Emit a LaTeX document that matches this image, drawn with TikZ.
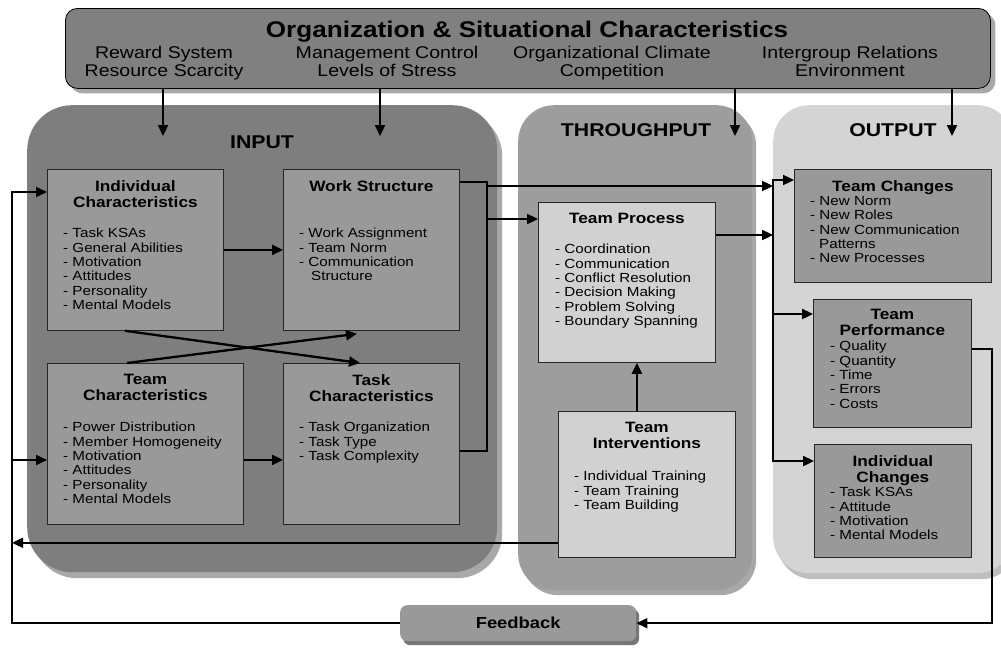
\documentclass[tikz,border=0pt]{standalone}
\usepackage{fontspec}
\setmainfont{Liberation Sans}[FakeStretch=1.15]
\usepackage{tikz}
\usetikzlibrary{arrows.meta,shadows}

\definecolor{orggray}{RGB}{128,128,128}
\definecolor{inputgray}{RGB}{126,126,126}
\definecolor{panelshadow}{RGB}{168,168,168}
\definecolor{boxgray}{RGB}{153,153,153}
\definecolor{thrugray}{RGB}{157,157,157}
\definecolor{lightbox}{RGB}{209,209,209}
\definecolor{outgray}{RGB}{212,212,212}
\definecolor{outshadow}{RGB}{190,190,190}
\definecolor{fbshadow}{RGB}{118,118,118}

\newcommand{\orgtitlefont}{\fontsize{22.7}{24}\selectfont\bfseries}
\newcommand{\orgitemfont}{\fontsize{17}{18}\selectfont}
\newcommand{\panelfont}{\fontsize{18.5}{20}\selectfont\bfseries}
\newcommand{\boxheadfont}{\fontsize{15}{16.2}\selectfont\bfseries}
\newcommand{\boxitemfont}{\fontsize{13.2}{14.4}\selectfont}

\tikzset{
  panel/.style={rounded corners=#1, inner sep=0pt, anchor=north west},
  panellabel/.style={inner sep=0pt, font=\panelfont},
  unit/.style={draw=black!85, line width=0.8pt, inner sep=0pt, anchor=north west},
  unithead/.style={anchor=north, align=center, inner sep=0pt, font=\boxheadfont},
  unitlist/.style={anchor=north west, align=left, inner sep=0pt, font=\boxitemfont},
  orgitem/.style={anchor=north, align=center, inner sep=0pt, font=\orgitemfont},
  flow/.style={line width=2.3pt, -{Triangle[length=11pt,width=10pt]}},
  loopline/.style={line width=1.8pt},
}

\begin{document}
\begin{tikzpicture}[x=1pt,y=-1pt]
  \useasboundingbox (0,0) rectangle (1001,653);
  \clip (0,0) rectangle (1001,653);

  % the three stages
  \node[panel=45pt, fill=inputgray, minimum width=470pt, minimum height=467pt,
        drop shadow={shadow xshift=5pt, shadow yshift=-6pt, fill=panelshadow, opacity=1}]
        (input) at (27,105) {};
  \node[panel=36pt, fill=thrugray, minimum width=234pt, minimum height=485pt,
        drop shadow={shadow xshift=4pt, shadow yshift=-5pt, fill=panelshadow, opacity=1}]
        (through) at (518,105) {};
  \node[panel=36pt, fill=outgray, minimum width=240pt, minimum height=468pt,
        drop shadow={shadow xshift=4pt, shadow yshift=-6pt, fill=outshadow, opacity=1}]
        (output) at (773,105) {};

  \node[panellabel] (inputlabel) at (262,142) {INPUT};
  \node[panellabel] (throughlabel) at (636,130) {THROUGHPUT};
  \node[panellabel] (outputlabel) at (893,130) {OUTPUT};

  % context box on top
  \node[panel=12pt, draw=black, line width=0.8pt, fill=orggray,
        minimum width=925pt, minimum height=80pt,
        drop shadow={shadow xshift=5pt, shadow yshift=-5pt, fill=panelshadow, opacity=1}]
        (org) at (65,8) {};
  \node[inner sep=0pt, font=\orgtitlefont] (orgtitle) at (527,32)
        {Organization \& Situational Characteristics};
  \node[orgitem] (reward) at (164,46) {Reward System\\Resource Scarcity};
  \node[orgitem] (control) at (387,46) {Management Control\\Levels of Stress};
  \node[orgitem] (climate) at (612,46) {Organizational Climate\\Competition};
  \node[orgitem] (relations) at (850,46) {Intergroup Relations\\Environment};

  % input boxes
  \node[unit, fill=boxgray, minimum width=176pt, minimum height=161pt] (ind) at (47,169) {};
  \node[unithead] (indhead) at ([yshift=-11pt]ind.north) {Individual\\Characteristics};
  \node[unitlist] (indlist) at ([shift={(16pt,-59pt)}]ind.north west)
        {- Task KSAs\\- General Abilities\\- Motivation\\- Attitudes\\- Personality\\- Mental Models};

  \node[unit, fill=boxgray, minimum width=176pt, minimum height=161pt] (work) at (283,169) {};
  \node[unithead] (workhead) at ([yshift=-11pt]work.north) {Work Structure};
  \node[unitlist] (worklist) at ([shift={(16pt,-59pt)}]work.north west)
        {- Work Assignment\\- Team Norm\\- Communication\\\hspace*{12pt}Structure};

  \node[unit, fill=boxgray, minimum width=196pt, minimum height=161pt] (team) at (47,363) {};
  \node[unithead] (teamhead) at ([yshift=-11pt]team.north) {Team\\Characteristics};
  \node[unitlist] (teamlist) at ([shift={(16pt,-59pt)}]team.north west)
        {- Power Distribution\\- Member Homogeneity\\- Motivation\\- Attitudes\\- Personality\\- Mental Models};

  \node[unit, fill=boxgray, minimum width=176pt, minimum height=161pt] (task) at (283,363) {};
  \node[unithead] (taskhead) at ([yshift=-11pt]task.north) {Task\\Characteristics};
  \node[unitlist] (tasklist) at ([shift={(16pt,-59pt)}]task.north west)
        {- Task Organization\\- Task Type\\- Task Complexity};

  % throughput boxes
  \node[unit, fill=lightbox, minimum width=177pt, minimum height=160pt] (proc) at (538,202) {};
  \node[unithead] (prochead) at ([yshift=-11pt]proc.north) {Team Process};
  \node[unitlist] (proclist) at ([shift={(17pt,-42pt)}]proc.north west)
        {- Coordination\\- Communication\\- Conflict Resolution\\- Decision Making\\- Problem Solving\\- Boundary Spanning};

  \node[unit, fill=lightbox, minimum width=177pt, minimum height=146pt] (interv) at (558,411) {};
  \node[unithead] (intervhead) at ([yshift=-11pt]interv.north) {Team\\Interventions};
  \node[unitlist] (intervlist) at ([shift={(16pt,-60pt)}]interv.north west)
        {- Individual Training\\- Team Training\\- Team Building};

  % output boxes
  \node[unit, fill=boxgray, minimum width=197pt, minimum height=113pt] (tchg) at (794,169) {};
  \node[unithead] (tchghead) at ([yshift=-11pt]tchg.north) {Team Changes};
  \node[unitlist] (tchglist) at ([shift={(16pt,-27pt)}]tchg.north west)
        {- New Norm\\- New Roles\\- New Communication\\\hspace*{9pt}Patterns\\- New Processes};

  \node[unit, fill=boxgray, minimum width=158pt, minimum height=128pt] (perf) at (813,299) {};
  \node[unithead] (perfhead) at ([yshift=-10pt]perf.north) {Team\\Performance};
  \node[unitlist] (perflist) at ([shift={(17pt,-42pt)}]perf.north west)
        {- Quality\\- Quantity\\- Time\\- Errors\\- Costs};

  \node[unit, fill=boxgray, minimum width=157pt, minimum height=113pt] (ichg) at (814,444) {};
  \node[unithead] (ichghead) at ([yshift=-11pt]ichg.north) {Individual\\Changes};
  \node[unitlist] (ichglist) at ([shift={(16pt,-43pt)}]ichg.north west)
        {- Task KSAs\\- Attitude\\- Motivation\\- Mental Models};

  % feedback
  \node[panel=7pt, fill=boxgray, minimum width=236pt, minimum height=36pt,
        drop shadow={shadow xshift=3pt, shadow yshift=-4pt, fill=fbshadow, opacity=1},
        font=\fontsize{16}{18}\selectfont\bfseries] (fb) at (400,605) {Feedback};

  % context into each stage
  \coordinate (drop1) at (163,136);
  \coordinate (drop2) at (380,136);
  \coordinate (drop3) at (735,136);
  \coordinate (drop4) at (952,136);
  \foreach \d in {drop1,drop2,drop3,drop4}
    \draw[flow] (org.south -| \d) -- (\d);

  % inside the input stage
  \draw[flow] (ind.east) -- (work.west);
  \draw[flow] ([yshift=-16pt]team.east) -- ([yshift=-16pt]task.west);
  \draw[flow] ([xshift=78pt]ind.south west) -- ([xshift=77pt]task.north west);
  \draw[flow] ([xshift=80pt]team.north west) -- ([xshift=74pt,yshift=-3pt]work.south west);

  % input to throughput and output
  \coordinate (inbus) at (487,219);
  \coordinate (outbus) at (773,186);
  \coordinate (procout) at ([yshift=-33pt]proc.north east);
  \draw[line width=2.3pt] ([yshift=-13pt]work.north east) -| (inbus)
        |- ([yshift=-88pt]task.north east);
  \draw[flow] (inbus) -- (inbus -| proc.west);
  \draw[flow] (inbus |- outbus) -- (outbus);
  \draw[flow] (procout) -- (procout -| outbus);
  \draw[flow] (outbus) |- ([yshift=-11pt]tchg.north west);
  \draw[flow] (outbus) |- ([yshift=-15pt]perf.north west);
  \draw[flow] (outbus) |- ([yshift=-17pt]ichg.north west);

  % interventions feed the process
  \coordinate (intop) at ([xshift=-10pt]interv.north);
  \draw[flow] (intop) -- (intop |- proc.south);

  % feedback loop
  \coordinate (lloop) at (12,622);
  \coordinate (rloop) at (992,622);
  \coordinate (intout) at ([yshift=15pt]interv.south west);
  \coordinate (indin) at ([yshift=-23pt]ind.north west);
  \coordinate (teamin) at ([yshift=-97pt]team.north west);
  \coordinate (perfout) at ([yshift=-50pt]perf.north east);
  \draw[loopline, -{Triangle[length=11pt,width=10pt]}] (intout) -- (intout -| lloop);
  \draw[loopline, -{Triangle[length=11pt,width=10pt]}] (fb.west) -| (lloop |- indin) -- (indin);
  \draw[loopline, -{Triangle[length=11pt,width=10pt]}] (lloop |- teamin) -- (teamin);
  \draw[loopline, -{Triangle[length=11pt,width=10pt]}] (perfout) -| (rloop |- fb.east) -- (fb.east);
\end{tikzpicture}
\end{document}
